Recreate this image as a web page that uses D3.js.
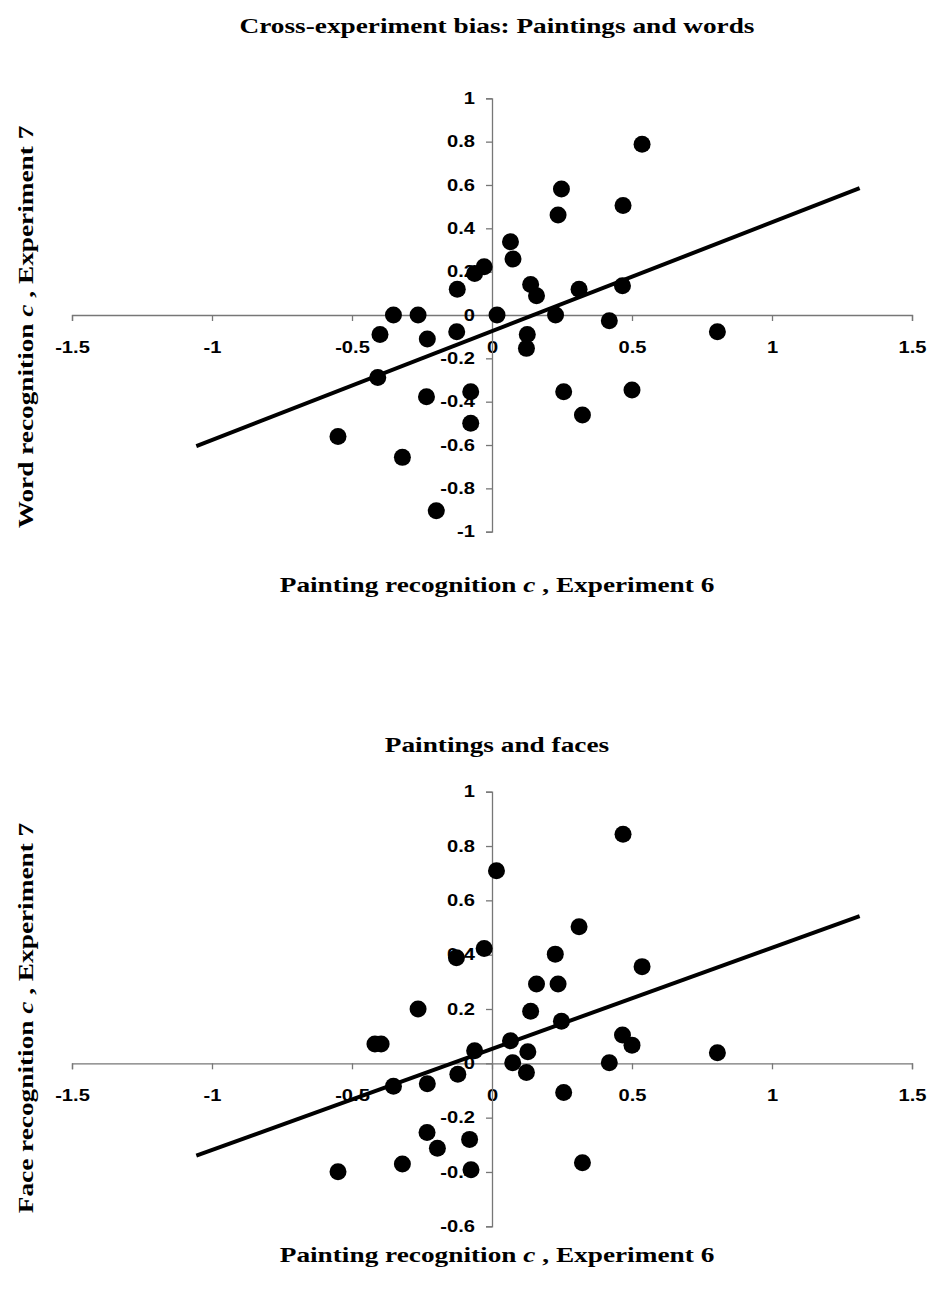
<!DOCTYPE html>
<html>
<head>
<meta charset="utf-8">
<script src="https://cdn.jsdelivr.net/npm/d3@7"></script>
<style>
  body { margin: 0; background: #fff; }
  svg { display: block; }
</style>
</head>
<body>
<svg width="931" height="1295"></svg>
<script>
// tick values
const xTicks = [-1.5, -1, -0.5, 0, 0.5, 1, 1.5];
const wordTicks = [-1, -0.8, -0.6, -0.4, -0.2, 0, 0.2, 0.4, 0.6, 0.8, 1];
const faceTicks = [-0.6, -0.4, -0.2, 0, 0.2, 0.4, 0.6, 0.8, 1];

// paintings (exp 6) vs words (exp 7)
const paintW = [-0.352, -0.264, -0.40, -0.231, -0.126, -0.124, -0.062, -0.028, 0.018, -0.408,
  0.536, 0.248, 0.236, 0.468, 0.066, 0.075, 0.138, 0.159, 0.311, 0.466,
  0.227, 0.419, 0.805, 0.126, 0.123, -0.234, -0.076, -0.076, -0.55, -0.32,
  -0.199, 0.256, 0.323, 0.5];
const wordC = [0, 0, -0.09, -0.111, -0.077, 0.119, 0.192, 0.223, 0, -0.288,
  0.788, 0.581, 0.461, 0.505, 0.338, 0.258, 0.141, 0.089, 0.119, 0.135,
  0, -0.027, -0.077, -0.09, -0.154, -0.377, -0.354, -0.5, -0.561, -0.657,
  -0.903, -0.354, -0.461, -0.346];

// paintings (exp 6) vs faces (exp 7)
const paintF = [0.016, -0.028, -0.127, -0.264, -0.418, -0.396, -0.062, 0.468, 0.311, 0.226,
  0.536, 0.159, 0.236, 0.138, 0.248, 0.066, 0.466, 0.5, 0.805, 0.128,
  0.074, 0.419, 0.123, -0.122, -0.231, -0.352, -0.232, -0.195, -0.08, -0.32,
  -0.075, -0.55, 0.256, 0.323];
const faceC = [0.709, 0.423, 0.389, 0.2, 0.071, 0.071, 0.046, 0.843, 0.503, 0.402,
  0.356, 0.292, 0.292, 0.192, 0.155, 0.083, 0.104, 0.067, 0.039, 0.043,
  0.002, 0.002, -0.034, -0.04, -0.075, -0.084, -0.255, -0.313, -0.28, -0.371,
  -0.392, -0.399, -0.107, -0.366];

// linear trend lines (end points)
const trendX = [-1.056, 1.313];
const trendWord = [-0.605, 0.585];
const trendFace = [-0.34, 0.542];

const svg = d3.select('svg');
const serif = '"Liberation Serif", "Times New Roman", serif';
const sans = '"Liberation Sans", Arial, sans-serif';
const ttlStretch = 1.3;   // reference type is set wider than the local fonts
const tickStretch = 1.22;

function ttl(sel) {
  return sel.style('font-family', serif).style('font-weight', 'bold')
    .style('font-size', '21px').style('fill', '#000')
    .attr('text-anchor', 'middle');
}

function scatter(cfg) {
  const x = d3.scaleLinear().domain([-1.5, 1.5]).range([72, 912]);
  const y = d3.scaleLinear().domain(cfg.yDomain).range(cfg.yRange);
  const g = svg.append('g');

  // title
  g.append('text').call(ttl)
    .attr('transform', `translate(497,${cfg.titleY}) scale(${ttlStretch},1)`)
    .text(cfg.title);

  // axes cross at 0,0
  const xa = g.append('g')
    .attr('transform', `translate(0,${y(0)})`)
    .call(d3.axisBottom(x).tickValues(xTicks).tickSize(6).tickPadding(20).tickFormat(d => String(d)));
  const ya = g.append('g')
    .attr('transform', `translate(${x(0)},0)`)
    .call(d3.axisLeft(y).tickValues(cfg.yTicks).tickSize(6).tickPadding(11).tickFormat(d => String(d)));
  [xa, ya].forEach(a => {
    a.select('.domain').attr('stroke', '#777').attr('stroke-width', 1.3);
    a.selectAll('.tick line').attr('stroke', '#777').attr('stroke-width', 1.3);
    a.selectAll('.tick text')
      .style('font-family', sans).style('font-weight', 'bold')
      .style('font-size', '16.5px').style('fill', '#000');
  });
  xa.selectAll('.tick text').attr('transform', `scale(${tickStretch},1)`);
  ya.selectAll('.tick text').attr('x', 0).attr('transform', `translate(-17,0) scale(${tickStretch},1)`);

  // points
  g.selectAll('circle.pt')
    .data(cfg.xs.map((v, i) => [v, cfg.ys[i]]))
    .enter().append('circle')
    .attr('class', 'pt')
    .attr('cx', d => x(d[0]))
    .attr('cy', d => y(d[1]))
    .attr('r', 8.5)
    .attr('fill', '#000');

  // trend line
  g.append('path')
    .datum(trendX.map((v, i) => [v, cfg.trend[i]]))
    .attr('d', d3.line().x(d => x(d[0])).y(d => y(d[1])))
    .attr('stroke', '#000').attr('stroke-width', 4).attr('fill', 'none');

  // axis titles
  const xt = g.append('text').call(ttl)
    .attr('transform', `translate(497,${cfg.xTitleY}) scale(${ttlStretch},1)`);
  xt.append('tspan').text('Painting recognition ');
  xt.append('tspan').style('font-style', 'italic').text('c');
  xt.append('tspan').text(' , Experiment 6');

  const yt = g.append('text').call(ttl)
    .attr('transform', `translate(33,${cfg.yTitleC}) rotate(-90) scale(${ttlStretch},1)`);
  yt.append('tspan').text(cfg.yName + ' recognition ');
  yt.append('tspan').style('font-style', 'italic').text('c');
  yt.append('tspan').text(' , Experiment 7');
}

scatter({
  title: 'Cross-experiment bias: Paintings and words', titleY: 33,
  yDomain: [-1, 1], yRange: [531.7, 98.3], yTicks: wordTicks,
  xs: paintW, ys: wordC, trend: trendWord,
  xTitleY: 592, yName: 'Word', yTitleC: 327
});

scatter({
  title: 'Paintings and faces', titleY: 752,
  yDomain: [-0.6, 1], yRange: [1226.3, 791.7], yTicks: faceTicks,
  xs: paintF, ys: faceC, trend: trendFace,
  xTitleY: 1262, yName: 'Face', yTitleC: 1018
});
</script>
</body>
</html>
